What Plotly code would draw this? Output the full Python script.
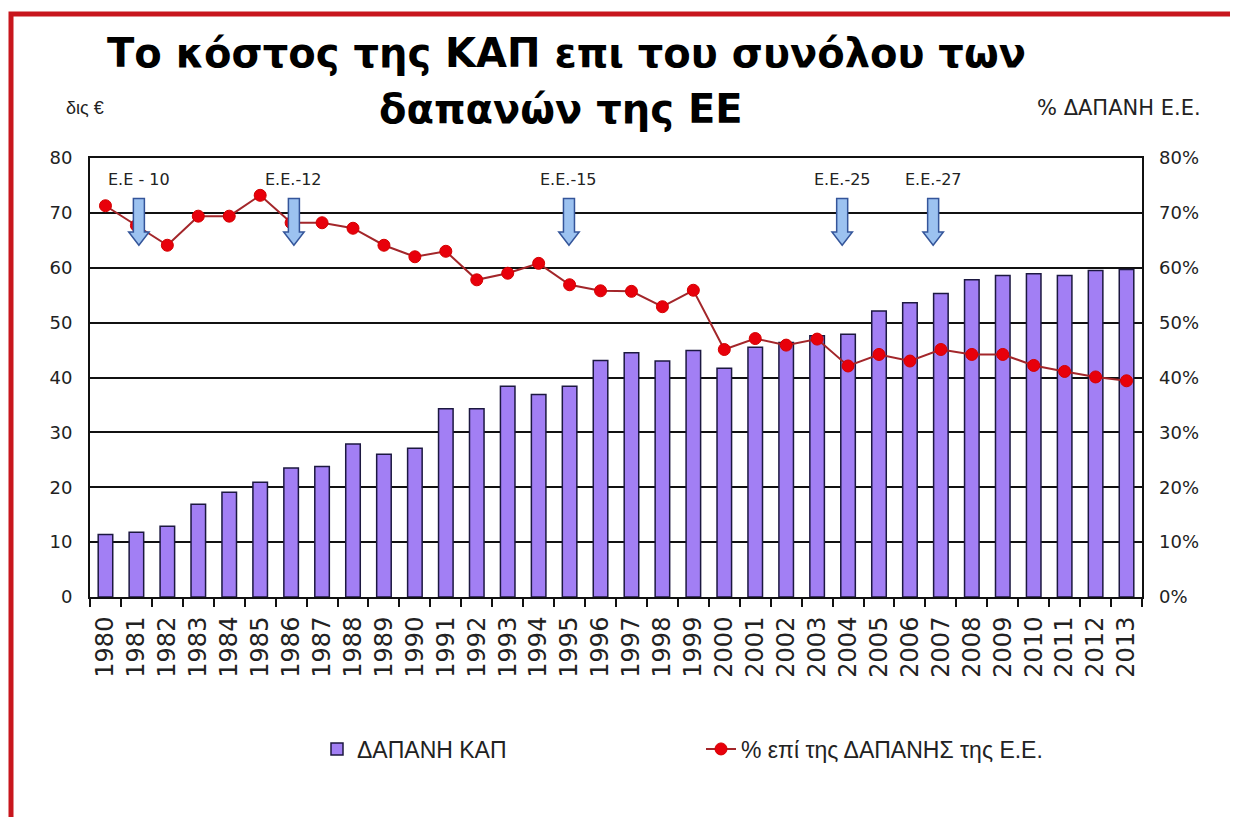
import plotly.graph_objects as go

# ---------------- data ----------------
years = list(range(1980, 2014))
year_labels = [str(y) for y in years]
cap_spending = [11.4, 11.8, 12.9, 16.9, 19.1, 20.9, 23.5, 23.8, 27.9, 26.0,
                27.1, 34.3, 34.3, 38.4, 36.9, 38.4, 43.1, 44.5, 43.0, 44.9,
                41.7, 45.5, 46.4, 47.6, 47.9, 52.1, 53.6, 55.3, 57.8, 58.6,
                58.9, 58.6, 59.5, 59.7]
pct_of_eu = [71.3, 67.7, 64.1, 69.4, 69.4, 73.2, 68.2, 68.2, 67.2, 64.1,
             62.0, 63.0, 57.8, 59.0, 60.8, 56.9, 55.8, 55.7, 52.9, 55.9,
             45.1, 47.1, 45.9, 47.0, 42.1, 44.2, 43.0, 45.1, 44.2, 44.2,
             42.2, 41.1, 40.1, 39.4]
enlargement_years = [1981, 1986, 1995, 2004, 2007]
enlargement_labels = ["E.E - 10", "E.E.-12", "E.E.-15", "E.E.-25", "E.E.-27"]
y_ticks = [0, 10, 20, 30, 40, 50, 60, 70, 80]

bar_name = "ΔΑΠΑΝΗ ΚΑΠ"
line_name = "% επί της ΔΑΠΑΝΗΣ της Ε.Ε."
title_1 = "Το κόστος της ΚΑΠ επι του συνόλου των"
title_2 = "δαπανών της ΕΕ"
left_unit = "δις €"
right_unit = "% ΔΑΠΑΝΗ Ε.Ε."

# ---------------- layout geometry ----------------
OFF = 8                      # page body margin
W, H = 1230, 809
PW, PH = 1052, 439           # plot area size
L, T = 90 - OFF, 158 - OFF
R, B = W - L - PW, H - T - PH
FONT = "DejaVu Sans, Liberation Sans, Arial, sans-serif"
ARIAL = "Liberation Sans, Arial, sans-serif"


def px_x(px):
    return (px - OFF - L) / PW


def px_y(py):
    return 1 - (py - OFF - T) / PH


fig = go.Figure()
fig.add_trace(go.Bar(
    x=years, y=cap_spending, name=bar_name, width=0.47,
    marker=dict(color="#a27ff4", line=dict(color="#1c1840", width=1.5)),
))
fig.add_trace(go.Scatter(
    x=years, y=pct_of_eu, name=line_name, yaxis="y2", mode="lines+markers",
    line=dict(color="#a3262a", width=2),
    marker=dict(color="#e8000b", size=12, line=dict(color="#d40000", width=1)),
))

shapes = []
annotations = []
# enlargement arrows (shapes drawn above the traces)
nudges = [0.08, 0.09, -0.02, -0.19, -0.25]
top, head, tip = 72.6, 66.5, 64.1
sw, hw = 0.178, 0.33
for yr, lab, dx in zip(enlargement_years, enlargement_labels, nudges):
    xc = yr + dx
    path = (f"M{xc - sw},{top} L{xc + sw},{top} L{xc + sw},{head} "
            f"L{xc + hw},{head} L{xc},{tip} L{xc - hw},{head} L{xc - sw},{head} Z")
    shapes.append(dict(type="path", xref="x", yref="y", path=path,
                       fillcolor="#9cc2f0", line=dict(color="#34559a", width=1.5),
                       layer="above"))
    annotations.append(dict(x=xc, y=76.0, xref="x", yref="y", text=lab,
                            showarrow=False, font=dict(family=FONT, size=16, color="#222"),
                            xanchor="center", yanchor="middle"))

# red frame (left and top edges)
shapes.append(dict(type="path", xref="paper", yref="paper",
                   path=(f"M{px_x(11)},{px_y(830)} L{px_x(11)},{px_y(14)} "
                         f"L{px_x(1250)},{px_y(14)}"),
                   line=dict(color="#c8161d", width=5), layer="above"))

# title lines
annotations.append(dict(x=px_x(566), y=px_y(53), xref="paper", yref="paper",
                        text=f"<b>{title_1}</b>", showarrow=False,
                        font=dict(family="DejaVu Sans, sans-serif", size=40, color="#000"),
                        xanchor="center", yanchor="middle"))
annotations.append(dict(x=px_x(561), y=px_y(109), xref="paper", yref="paper",
                        text=f"<b>{title_2}</b>", showarrow=False,
                        font=dict(family="DejaVu Sans, sans-serif", size=40, color="#000"),
                        xanchor="center", yanchor="middle"))
# axis unit labels
annotations.append(dict(x=px_x(64), y=px_y(108), xref="paper", yref="paper",
                        text=left_unit, showarrow=False,
                        font=dict(family=ARIAL, size=18, color="#222"),
                        xanchor="left", yanchor="middle"))
annotations.append(dict(x=px_x(1203), y=px_y(108), xref="paper", yref="paper",
                        text=right_unit, showarrow=False,
                        font=dict(family=FONT, size=21, color="#222"),
                        xanchor="right", yanchor="middle"))

fig.update_layout(
    width=W, height=H,
    margin=dict(l=L, r=R, t=T, b=B, autoexpand=False),
    paper_bgcolor="white", plot_bgcolor="white",
    font=dict(family=FONT, color="#222"),
    showlegend=True,
    legend=dict(orientation="h", x=px_x(317), y=px_y(749), xanchor="left",
                yanchor="middle", font=dict(family=ARIAL, size=23, color="#222"),
                entrywidth=339, entrywidthmode="pixels", bgcolor="rgba(0,0,0,0)"),
    bargap=0.5,
    xaxis=dict(
        range=[1979.5, 2013.5], tickmode="array", tickvals=years, ticktext=year_labels,
        tickangle=-90, ticks="", tickfont=dict(family=FONT, size=24, color="#222"),
        ticklabelstandoff=8,
        showgrid=False, zeroline=False, showline=True, linecolor="#111", linewidth=2,
        mirror=True,
        minor=dict(tickmode="array", tickvals=[y - 0.5 for y in years] + [years[-1] + 0.5],
                   ticks="outside", ticklen=8, tickwidth=1.5, tickcolor="#111",
                   showgrid=False),
    ),
    yaxis=dict(
        range=[0, 80], tickmode="array", tickvals=y_ticks,
        ticktext=[str(v) for v in y_ticks],
        tickfont=dict(family=FONT, size=18, color="#222"),
        showgrid=True, gridcolor="#111", gridwidth=2, zeroline=False,
        showline=True, linecolor="#111", linewidth=2, mirror=True,
        ticks="", ticklabelstandoff=12,
    ),
    yaxis2=dict(
        range=[0, 80], overlaying="y", side="right", tickmode="array",
        tickvals=y_ticks, ticktext=[f"{v}%" for v in y_ticks],
        tickfont=dict(family=FONT, size=18, color="#222"),
        showgrid=False, zeroline=False, showline=False, ticks="",
        ticklabelstandoff=16,
    ),
    shapes=shapes,
    annotations=annotations,
)

fig.write_html("out.html")
